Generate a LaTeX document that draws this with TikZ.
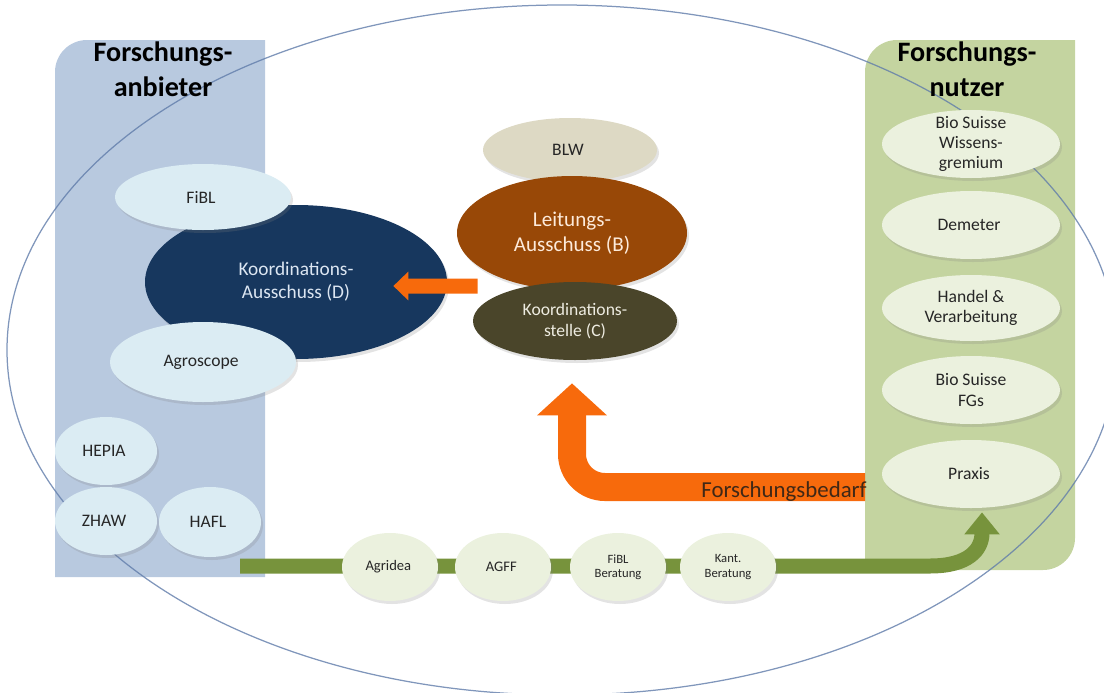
\documentclass[tikz,border=0pt]{standalone}
\usepackage{fontspec}
\setmainfont{Carlito}
\usetikzlibrary{arrows.meta,shapes.geometric,shadows}

\definecolor{anbieterfill}{RGB}{184,201,223}
\definecolor{nutzerfill}{RGB}{196,212,160}
\definecolor{ellblue}{RGB}{219,236,243}
\definecolor{ellgreen}{RGB}{235,241,222}
\definecolor{blwfill}{RGB}{221,217,196}
\definecolor{bfill}{RGB}{152,72,7}
\definecolor{cfill}{RGB}{74,69,42}
\definecolor{dfill}{RGB}{23,55,94}
\definecolor{orangeflow}{RGB}{247,106,12}
\definecolor{greenflow}{RGB}{119,147,60}
\definecolor{ringblue}{RGB}{96,124,170}
\definecolor{txtdark}{RGB}{38,38,38}
\definecolor{txtbrown}{RGB}{64,40,22}

\pgfdeclarelayer{panels}
\pgfdeclarelayer{flows}
\pgfsetlayers{panels,flows,main}

\tikzset{
  ell/.style 2 args={ellipse, inner sep=-1.5mm, align=center,
    minimum width=#1*0.4mm, minimum height=#2*0.4mm,
    drop shadow={opacity=0.22, shadow xshift=0.4mm, shadow yshift=-0.6mm}},
  anb/.style 2 args={ell={#1}{#2}, fill=ellblue, text=txtdark, font=\fontsize{10}{12}\selectfont},
  nutz/.style 2 args={ell={#1}{#2}, fill=ellgreen, text=txtdark, font=\fontsize{10}{11.4}\selectfont},
  trans/.style 2 args={ell={#1}{#2}, fill=ellgreen, text=txtdark, font=\fontsize{8.3}{9}\selectfont},
  title/.style={align=center, font=\fontsize{16}{20}\selectfont\bfseries},
}

\begin{document}
\begin{tikzpicture}[x=0.2mm,y=-0.2mm]
      \useasboundingbox (0,0) rectangle (1104,692);
      % Panels
      \begin{pgfonlayer}{panels}
      \fill[anbieterfill] (55,577) -- (55,72) arc[start angle=180,end angle=270,radius=32] -- (265,40) -- (265,577) -- cycle;
      \fill[nutzerfill] (865,570) -- (865,72) arc[start angle=180,end angle=270,radius=32] -- (1075,40) -- (1075,538) arc[start angle=0,end angle=90,radius=32] -- cycle;
      \end{pgfonlayer}
      \begin{pgfonlayer}{flows}
      \draw[ringblue,line width=0.25mm,opacity=0.8] (562,350) ellipse [x radius=555, y radius=345];
      \end{pgfonlayer}
      % Nodes: Titles
      \node[title] (TA) at (163,69) { Forschungs-\\anbieter };
      \node[title] (TN) at (967,69) { Forschungs-\\nutzer };
      % Nodes: Forschungsanbieter
      \node[ell={151}{77}, fill=dfill, text={rgb,255:red,220;green,230;blue,242}, font=\fontsize{11}{13}\selectfont] (D) at (296,282) { Koordinations-\\Ausschuss (D) };
      \node[anb={88}{33}] (FiBL) at (203,197) { FiBL };
      \node[anb={93}{40}] (Agro) at (203,362) { Agroscope };
      \node[anb={51}{34}] (HEPIA) at (106,451) { HEPIA };
      \node[anb={51}{34}] (ZHAW) at (106,521) { ZHAW };
      \node[anb={51}{35}] (HAFL) at (210,522) { HAFL };
      % Nodes: Leitung
      \node[ell={87}{32}, fill=blwfill, text=txtdark, font=\fontsize{10}{12}\selectfont] (BLW) at (570,150) { BLW };
      \node[ell={115}{57}, fill=bfill, text={rgb,255:red,253;green,234;blue,218}, font=\fontsize{12}{14.5}\selectfont] (B) at (572,233) { Leitungs-\\Ausschuss (B) };
      \node[ell={102}{39}, fill=cfill, text={rgb,255:red,238;green,236;blue,225}, font=\fontsize{10}{12}\selectfont] (C) at (575,321) { Koordinations-\\stelle (C) };
      % Nodes: Beratung
      \node[trans={48}{34}] (Agridea) at (390,567) { Agridea };
      \node[trans={48}{34}] (AGFF) at (503,567) { AGFF };
      \node[trans={48}{34}, font=\fontsize{7.2}{8.2}\selectfont] (FiBLB) at (618,567) { FiBL\\Beratung };
      \node[trans={48}{34}, font=\fontsize{7.2}{8.2}\selectfont] (Kant) at (728,567) { Kant.\\Beratung };
      % Nodes: Forschungsnutzer
      \node[nutz={89}{34}] (BioW) at (971,144) { Bio Suisse\\Wissens-\\gremium };
      \node[nutz={89}{34}] (Demeter) at (971,225) { Demeter };
      \node[nutz={89}{33}] (Handel) at (971,308) { Handel \&\\Verarbeitung };
      \node[nutz={89}{34}] (BioFG) at (971,390) { Bio Suisse\\FGs };
      \node[nutz={89}{34}] (Praxis) at (971,474) { Praxis };
      % Arrows: Forschungsbedarf and Wissenstransfer
      \coordinate (oStart) at (865,487);
      \coordinate (gStart) at (240,566);
      \begin{pgfonlayer}{flows}
      \draw[orangeflow,line width=5.6mm,rounded corners=6.6mm,-{Triangle[length=6.4mm,width=13.6mm]}] (oStart) -- (572,487) -- ([xshift=-0.6mm,yshift=-4.6mm]C.south);
      \draw[greenflow,line width=3mm,-{Triangle[length=4.4mm,width=6.8mm]}] (gStart) -- (930,566) .. controls (968,566) and (982,550) .. ([xshift=2.2mm,yshift=-0.8mm]Praxis.south);
      \end{pgfonlayer}
      \node[text=txtbrown, font=\fontsize{13}{15}\selectfont] (FB) at (784,492) { Forschungsbedarf };
      \draw[orangeflow,line width=3mm,-{Triangle[length=3mm,width=5.6mm]}] ([xshift=1mm,yshift=7mm]C.west) -- ([xshift=-10.8mm,yshift=-0.8mm]D.east);
    \end{tikzpicture}
\end{document}
